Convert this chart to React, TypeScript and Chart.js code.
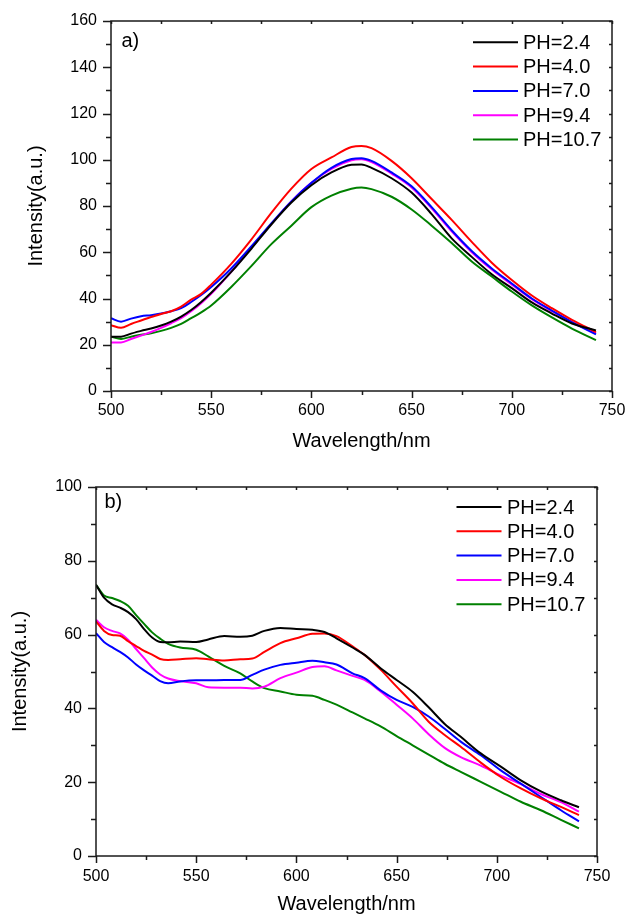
import React, { useEffect, useRef } from 'react';
import { Chart, registerables } from 'chart.js';

Chart.register(...registerables);

const FONT = "'Liberation Sans', Arial, Helvetica, sans-serif";

const seriesLabels = ['PH=2.4', 'PH=4.0', 'PH=7.0', 'PH=9.4', 'PH=10.7'];
const seriesColors = ['#000000', '#ff0000', '#0000ff', '#ff00ff', '#008000'];

const xTickValues = [500, 550, 600, 650, 700, 750];
const yTickValuesA = [0, 20, 40, 60, 80, 100, 120, 140, 160];
const yTickValuesB = [0, 20, 40, 60, 80, 100];

// ---- Panel a) ----
const wavelengthA = [500, 505, 510, 515, 520, 525, 530, 535, 540, 545, 550, 560, 570, 580, 590, 600, 610, 620, 625, 630, 640, 650, 660, 670, 680, 690, 700, 710, 720, 730, 742];
const a_ph24 = [23.5, 23.5, 24.8, 26, 27, 28.3, 30, 32.2, 35, 38.5, 42.5, 51.5, 61.5, 72, 81.5, 89, 94.5, 97.8, 98, 96.5, 92, 85.8, 76.5, 66, 58, 50.5, 44.5, 38.3, 33.5, 29.2, 26.2];
const a_ph40 = [28.5, 27.3, 29, 30.5, 32, 33.3, 34.5, 36.5, 39.5, 42, 46, 55, 65.5, 77, 87.5, 96, 101, 105.5, 106, 105, 99.5, 92, 83, 74, 64.5, 55.5, 48, 41.3, 35.8, 30.8, 25.5];
const a_ph70 = [31.5, 30, 31.3, 32.3, 32.8, 33.5, 34.5, 35.8, 38.5, 41.5, 45, 53, 62.5, 72.5, 82, 90, 96.5, 100.3, 100.7, 99.5, 94.5, 88.5, 79.5, 69.5, 60.5, 53, 46.5, 40, 34.8, 29.8, 24.5];
const a_ph94 = [21, 21, 22.5, 24, 25.5, 27.3, 29.3, 31.5, 34.5, 38, 42, 51.5, 62, 72.3, 82, 90, 96, 99.8, 100.2, 99, 94, 88, 79, 69, 60, 52.5, 46, 39.7, 34.5, 29.8, 25];
const a_ph107 = [23.5, 22.5, 23.5, 24.3, 25, 26, 27.3, 29, 31.5, 34, 37, 45, 54, 63.5, 71.5, 79.5, 84.5, 87.5, 88, 87.3, 84, 78.5, 71.5, 64, 56, 49.5, 43, 37, 31.8, 27, 22];

// ---- Panel b) ----
const wavelengthB = [500, 504, 508, 512, 516, 520, 524, 528, 532, 536, 542, 550, 556, 564, 572, 578, 584, 592, 600, 608, 614, 620, 628, 634, 642, 650, 658, 666, 674, 682, 692, 702, 712, 722, 732, 741];
const b_ph24 = [73.5, 70, 68.2, 67.3, 66.1, 64.2, 61.5, 59.2, 58, 57.9, 58.1, 58, 58.7, 59.6, 59.4, 59.7, 61, 61.8, 61.5, 61.3, 60.7, 59, 56.5, 54.5, 50.9, 47.7, 44.5, 40.3, 35.8, 32.3, 27.8, 24.2, 20.5, 17.5, 15.1, 13.2];
const b_ph40 = [63.6, 61, 59.9, 59.7, 58.2, 56.9, 55.6, 54.6, 53.4, 53.1, 53.3, 53.6, 53.3, 53, 53.3, 53.5, 55.3, 57.7, 59, 60.2, 60.3, 59.6, 56.8, 54.5, 50.5, 45.9, 41.4, 36.4, 32.8, 29.6, 25.3, 21.4, 18.3, 15.6, 13.3, 11.1];
const b_ph70 = [60.4, 58, 56.6, 55.3, 53.8, 51.9, 50.3, 48.9, 47.4, 46.8, 47.3, 47.6, 47.6, 47.7, 47.7, 49.1, 50.5, 51.8, 52.4, 52.9, 52.5, 51.9, 49.5, 48.2, 44.9, 42.3, 40.4, 37.8, 34.5, 31, 27.3, 23.2, 19.6, 16, 12.4, 9.4];
const b_ph94 = [64, 62, 61, 60.3, 58.6, 56.1, 53.6, 51.1, 49.2, 48.1, 47.4, 46.8, 45.7, 45.6, 45.6, 45.4, 45.9, 48.2, 49.7, 51.2, 51.4, 50.3, 48.8, 47.7, 44.6, 41, 37.3, 33, 29.3, 26.8, 24.5, 21.8, 19.5, 16.8, 14.6, 12];
const b_ph107 = [73.5, 70.6, 69.9, 69.1, 67.8, 65.3, 62.9, 60.6, 58.9, 57.5, 56.5, 55.9, 54.1, 51.5, 49.5, 47.3, 45.5, 44.6, 43.7, 43.4, 42.3, 41, 38.9, 37.3, 35.1, 32.5, 30, 27.5, 25, 22.8, 20.1, 17.4, 14.7, 12.4, 9.8, 7.5];

const CANVAS_W = 627;
const CANVAS_H = 458;

const framePlugin = {
  id: 'frame',
  afterDatasetsDraw(chart: any, _args: any, opts: any) {
    const { ctx, chartArea: ca, scales } = chart;
    const xs = scales.x;
    const ys = scales.y;
    ctx.save();
    ctx.strokeStyle = '#1a1a1a';
    ctx.lineWidth = 1.5;
    ctx.strokeRect(ca.left, ca.top, ca.right - ca.left, ca.bottom - ca.top);
    ctx.beginPath();
    const nx = Math.round((xs.max - xs.min) / opts.xMinor);
    for (let i = 0; i <= nx; i++) {
      const v = xs.min + i * opts.xMinor;
      const px = Math.round(xs.getPixelForValue(v)) + 0.5;
      const len = i % 2 === 0 ? 7 : 4;
      ctx.moveTo(px, ca.bottom);
      ctx.lineTo(px, ca.bottom + len);
      ctx.moveTo(px, ca.top);
      ctx.lineTo(px, ca.top + 3);
    }
    const ny = Math.round((ys.max - ys.min) / opts.yMinor);
    for (let i = 0; i <= ny; i++) {
      const v = ys.min + i * opts.yMinor;
      const py = Math.round(ys.getPixelForValue(v)) + 0.5;
      const len = i % 2 === 0 ? 8 : 5;
      ctx.moveTo(ca.left, py);
      ctx.lineTo(ca.left - len, py);
      ctx.moveTo(ca.right, py);
      ctx.lineTo(ca.right - 3, py);
    }
    ctx.stroke();
    ctx.restore();
  },
};

const insetPlugin = {
  id: 'inset',
  afterDraw(chart: any, _args: any, opts: any) {
    const { ctx, chartArea: ca } = chart;
    ctx.save();
    ctx.font = `20px ${FONT}`;
    ctx.fillStyle = '#000';
    ctx.textBaseline = 'middle';
    ctx.textAlign = 'left';
    ctx.fillText(opts.tag, ca.left + opts.tagDx, ca.top + opts.tagDy);
    chart.data.datasets.forEach((ds: any, i: number) => {
      const y = ca.top + opts.legDy + i * opts.legStep;
      ctx.strokeStyle = ds.borderColor;
      ctx.lineWidth = 2;
      ctx.beginPath();
      ctx.moveTo(ca.right - opts.legX0, y);
      ctx.lineTo(ca.right - opts.legX1, y);
      ctx.stroke();
      ctx.fillStyle = '#000';
      ctx.fillText(ds.label, ca.right - opts.legTextX, y + 1);
    });
    ctx.restore();
  },
};

function buildConfig(o: any) {
  return {
    type: 'line',
    data: {
      datasets: o.series.map((vals: number[], i: number) => ({
        label: seriesLabels[i],
        data: o.wavelengths.map((w: number, j: number) => ({ x: w, y: vals[j] })),
        borderColor: seriesColors[i],
        backgroundColor: seriesColors[i],
        borderWidth: 2,
        pointRadius: 0,
        fill: false,
        cubicInterpolationMode: 'monotone',
      })),
    },
    options: {
      animation: false,
      responsive: false,
      devicePixelRatio: 1,
      events: [],
      layout: { padding: { top: o.plotTop, right: CANVAS_W - o.plotRight, left: 0, bottom: 0 } },
      plugins: {
        legend: { display: false },
        tooltip: { enabled: false },
        frame: { xMinor: 25, yMinor: 10 },
        inset: o.inset,
      },
      scales: {
        x: {
          type: 'linear',
          min: 500,
          max: 750,
          afterBuildTicks: (s: any) => {
            s.ticks = xTickValues.map((v) => ({ value: v }));
          },
          afterFit: (s: any) => {
            s.height = CANVAS_H - o.plotBottom;
            s.paddingLeft = 0;
            s.paddingRight = 0;
          },
          ticks: {
            font: { family: FONT, size: 16 },
            color: '#000',
            padding: o.xTickPad,
            maxRotation: 0,
            autoSkip: false,
          },
          grid: { display: false, drawTicks: false },
          border: { display: false },
          title: {
            display: true,
            text: 'Wavelength/nm',
            font: { family: FONT, size: 20 },
            color: '#000',
            padding: { top: 0, bottom: o.xTitlePad },
          },
        },
        y: {
          type: 'linear',
          min: 0,
          max: o.yMax,
          afterBuildTicks: (s: any) => {
            s.ticks = o.yTicks.map((v: number) => ({ value: v }));
          },
          afterFit: (s: any) => {
            s.width = o.plotLeft;
            s.paddingTop = 0;
            s.paddingBottom = 0;
          },
          ticks: {
            font: { family: FONT, size: 16 },
            color: '#000',
            padding: 14,
            autoSkip: false,
          },
          grid: { display: false, drawTicks: false },
          border: { display: false },
          title: {
            display: true,
            text: 'Intensity(a.u.)',
            font: { family: FONT, size: 20 },
            color: '#000',
            padding: { top: o.yTitlePad, bottom: 0 },
          },
        },
      },
    },
    plugins: [framePlugin, insetPlugin],
  };
}

export default function App() {
  const refA = useRef<HTMLCanvasElement | null>(null);
  const refB = useRef<HTMLCanvasElement | null>(null);

  useEffect(() => {
    const cfgA = buildConfig({
      wavelengths: wavelengthA,
      series: [a_ph24, a_ph40, a_ph70, a_ph94, a_ph107],
      yMax: 160,
      yTicks: yTickValuesA,
      plotTop: 21,
      plotBottom: 391,
      plotLeft: 111,
      plotRight: 612,
      xTickPad: 10,
      xTitlePad: 5,
      yTitlePad: 24,
      inset: { tag: 'a)', tagDx: 10.5, tagDy: 20, legX0: 139, legX1: 94, legTextX: 89, legDy: 21.3, legStep: 24.3 },
    });
    const cfgB = buildConfig({
      wavelengths: wavelengthB,
      series: [b_ph24, b_ph40, b_ph70, b_ph94, b_ph107],
      yMax: 100,
      yTicks: yTickValuesB,
      plotTop: 29,
      plotBottom: 398,
      plotLeft: 96,
      plotRight: 597,
      xTickPad: 11,
      xTitlePad: 0,
      yTitlePad: 8,
      inset: { tag: 'b)', tagDx: 8.5, tagDy: 15.5, legX0: 140.5, legX1: 95.5, legTextX: 90, legDy: 20, legStep: 24.3 },
    });
    const chartA = new Chart(refA.current as HTMLCanvasElement, cfgA as any);
    const chartB = new Chart(refB.current as HTMLCanvasElement, cfgB as any);
    return () => {
      chartA.destroy();
      chartB.destroy();
    };
  }, []);

  return (
    <div style={{ position: 'absolute', left: 0, top: 0, width: CANVAS_W, height: CANVAS_H * 2, background: '#fff' }}>
      <canvas ref={refA} width={CANVAS_W} height={CANVAS_H} style={{ display: 'block', width: CANVAS_W, height: CANVAS_H }} />
      <canvas ref={refB} width={CANVAS_W} height={CANVAS_H} style={{ display: 'block', width: CANVAS_W, height: CANVAS_H }} />
    </div>
  );
}
